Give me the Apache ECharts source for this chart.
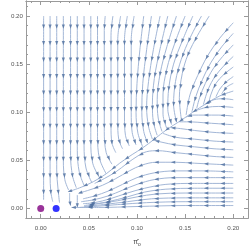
<!DOCTYPE html>
<html><head><meta charset="utf-8">
<script src="https://cdn.jsdelivr.net/npm/echarts@6/dist/echarts.min.js"></script>
<style>html,body{margin:0;padding:0;background:#fff}#c{width:249px;height:246px}</style>
</head><body><div id="c"></div>
<script>
// axis ranges and ticks
const X_MIN = -0.0153, X_MAX = 0.2153;
const Y_MIN = -0.00995, Y_MAX = 0.2156;
const xTickValues = [0, 0.05, 0.10, 0.15, 0.20];
const yTickValues = [0, 0.05, 0.10, 0.15, 0.20];
const minorTickValues = [-0.01, 0.01, 0.02, 0.03, 0.04, 0.06, 0.07, 0.08, 0.09, 0.11, 0.12, 0.13, 0.14, 0.16, 0.17, 0.18, 0.19, 0.21];

// fixed points
const pointPurple = [0, 0];
const pointBlue = [0.016, 0];

// streamlines, listed in flow direction
const verticalLines = [
  [[0.003,0.2],[0.003,0.1],[0.003,0.009]],
  [[0.0097,0.2],[0.0097,0.035],[0.0105,0.017],[0.0125,0.007]],
  [[0.0166,0.2],[0.0166,0.04],[0.018,0.02],[0.0195,0.006]],
  [[0.0235,0.2],[0.0235,0.05],[0.025,0.03],[0.029,0.019]],
  [[0.031,0.2],[0.031,0.055],[0.033,0.034],[0.037,0.0215]],
  [[0.038,0.2],[0.038,0.06],[0.040,0.038],[0.045,0.024]],
  [[0.045,0.2],[0.045,0.065],[0.047,0.042],[0.053,0.027]],
  [[0.052,0.2],[0.052,0.07],[0.054,0.047],[0.061,0.032]],
  [[0.059,0.2],[0.059,0.075],[0.061,0.052],[0.068,0.036]],
  [[0.067,0.2],[0.066,0.185],[0.066,0.08],[0.068,0.058],[0.074,0.046]],
  [[0.075,0.2],[0.073,0.18],[0.073,0.085],[0.074,0.068],[0.078,0.058]],
  [[0.083,0.2],[0.080,0.175],[0.080,0.09],[0.081,0.072],[0.085,0.062]],
  [[0.090,0.2],[0.087,0.175],[0.087,0.095],[0.088,0.076],[0.092,0.065]],
  [[0.097,0.2],[0.094,0.175],[0.094,0.1],[0.095,0.079],[0.099,0.066]]
];
const separatrix = [
  [0.2,0.122],[0.186,0.117],[0.172,0.109],[0.158,0.1],[0.145,0.091],[0.131,0.082],
  [0.118,0.072],[0.106,0.063],[0.095,0.056],[0.082,0.047],[0.068,0.036],[0.055,0.028],
  [0.042,0.022],[0.029,0.0175]
];
const topLines = [
  [[0.107,0.2],[0.103,0.165],[0.100,0.13],[0.099,0.1],[0.101,0.078],[0.106,0.064]],
  [[0.115,0.2],[0.110,0.165],[0.106,0.13],[0.105,0.1],[0.107,0.08],[0.111,0.068]],
  [[0.124,0.2],[0.117,0.165],[0.112,0.132],[0.110,0.105],[0.112,0.085],[0.116,0.072]],
  [[0.132,0.2],[0.124,0.166],[0.118,0.135],[0.116,0.108],[0.117,0.09],[0.121,0.076]],
  [[0.141,0.2],[0.131,0.168],[0.124,0.14],[0.121,0.113],[0.122,0.094],[0.126,0.08]],
  [[0.150,0.2],[0.139,0.171],[0.131,0.145],[0.127,0.118],[0.127,0.098],[0.131,0.083]],
  [[0.158,0.2],[0.147,0.174],[0.138,0.15],[0.133,0.125],[0.132,0.103],[0.136,0.087]],
  [[0.167,0.2],[0.155,0.177],[0.146,0.155],[0.140,0.132],[0.138,0.108],[0.141,0.09]],
  [[0.175,0.2],[0.163,0.18],[0.153,0.16],[0.147,0.14],[0.144,0.115],[0.146,0.093]]
];
const edgeLines = [
  [[0.2,0.193],[0.186,0.177],[0.173,0.158],[0.163,0.138],[0.155,0.118],[0.151,0.097]],
  [[0.2,0.182],[0.188,0.168],[0.177,0.152],[0.168,0.134],[0.161,0.116],[0.157,0.1]],
  [[0.2,0.170],[0.189,0.158],[0.179,0.145],[0.171,0.13],[0.165,0.115],[0.162,0.104]],
  [[0.2,0.158],[0.19,0.148],[0.181,0.137],[0.174,0.124],[0.169,0.108]],
  [[0.2,0.147],[0.19,0.139],[0.182,0.13],[0.177,0.119],[0.175,0.112]],
  [[0.2,0.137],[0.192,0.131],[0.186,0.124],[0.182,0.116]],
  [[0.2,0.130],[0.193,0.126],[0.188,0.119]]
];
const lowerLines = [
  [[0.2,0.113],[0.19,0.114],[0.18,0.113],[0.172,0.109]],
  [[0.2,0.105],[0.185,0.106],[0.172,0.105],[0.162,0.102]],
  [[0.2,0.096],[0.185,0.097],[0.17,0.097],[0.158,0.097],[0.151,0.095]],
  [[0.2,0.087],[0.185,0.088],[0.17,0.089],[0.155,0.09],[0.144,0.09]],
  [[0.2,0.078],[0.18,0.079],[0.16,0.081],[0.145,0.083],[0.135,0.084]],
  [[0.2,0.069],[0.18,0.07],[0.16,0.072],[0.14,0.074],[0.127,0.078]],
  [[0.2,0.061],[0.18,0.062],[0.16,0.064],[0.14,0.066],[0.125,0.069],[0.117,0.071]],
  [[0.2,0.053],[0.18,0.054],[0.16,0.056],[0.14,0.058],[0.122,0.06],[0.11,0.059],[0.1,0.054],[0.09,0.047],[0.078,0.038],[0.066,0.031],[0.056,0.026]],
  [[0.2,0.045],[0.18,0.046],[0.16,0.047],[0.14,0.048],[0.12,0.048],[0.105,0.045],[0.092,0.039],[0.078,0.031],[0.064,0.024],[0.05,0.019],[0.04,0.016]],
  [[0.2,0.038],[0.17,0.039],[0.14,0.039],[0.118,0.037],[0.1,0.032],[0.085,0.025],[0.07,0.018],[0.056,0.013],[0.044,0.01]],
  [[0.2,0.032],[0.17,0.032],[0.14,0.032],[0.118,0.03],[0.1,0.025],[0.085,0.019],[0.07,0.013],[0.055,0.009],[0.042,0.007]],
  [[0.2,0.026],[0.16,0.026],[0.13,0.025],[0.108,0.021],[0.09,0.016],[0.072,0.01],[0.056,0.006],[0.044,0.005]],
  [[0.2,0.021],[0.16,0.021],[0.13,0.02],[0.108,0.017],[0.09,0.012],[0.07,0.007],[0.052,0.004]],
  [[0.2,0.016],[0.15,0.016],[0.12,0.015],[0.1,0.012],[0.08,0.008],[0.06,0.005],[0.045,0.003]],
  [[0.2,0.011],[0.15,0.011],[0.115,0.01],[0.09,0.007],[0.065,0.004],[0.045,0.002]],
  [[0.2,0.007],[0.15,0.007],[0.11,0.006],[0.08,0.004],[0.055,0.002],[0.04,0.001]],
  [[0.2,0.003],[0.15,0.003],[0.1,0.002],[0.06,0.001],[0.032,0.001]]
];
const stubLines = [
  [[0.030,0.016],[0.030,0.009],[0.031,0.003]],
  [[0.038,0.014],[0.038,0.008],[0.038,0.002]]
];

const allLines = [].concat(verticalLines, [separatrix], topLines, edgeLines, lowerLines, stubLines);

const LINE_COLOR = '#9db2d4';
const ARROW_COLOR = '#4f6f9f';

function arrowsFor(poly) {
  const out = [];
  const step = 0.0172;
  let acc = 0, next = 0.011;
  for (let i = 1; i < poly.length; i++) {
    const a = poly[i-1], b = poly[i];
    const dx = b[0]-a[0], dy = b[1]-a[1];
    const L = Math.hypot(dx, dy);
    if (L === 0) continue;
    while (next <= acc + L) {
      const t = (next - acc) / L;
      out.push({value:[a[0]+dx*t, a[1]+dy*t], symbolRotate: Math.atan2(-dx, dy)*180/Math.PI});
      next += step;
    }
    acc += L;
  }
  if (!out.length) {
    const a = poly[0], b = poly[poly.length-1];
    out.push({value:[(a[0]+b[0])/2,(a[1]+b[1])/2], symbolRotate: Math.atan2(-(b[0]-a[0]), b[1]-a[1])*180/Math.PI});
  }
  return out;
}

const series = [];
allLines.forEach(function(poly){
  series.push({type:'line', data: poly, showSymbol:false, symbol:'none', smooth:0.35,
    lineStyle:{color:LINE_COLOR, width:0.95}, silent:true, z:2, animation:false, clip:true});
});
let arrowData = [];
allLines.forEach(function(poly){ arrowData = arrowData.concat(arrowsFor(poly)); });
series.push({type:'scatter', data: arrowData, symbol:'triangle', symbolSize:[3.2,4.4],
  itemStyle:{color:ARROW_COLOR}, silent:true, z:3, animation:false});
series.push({type:'scatter', data:[pointPurple], symbolSize:7, itemStyle:{color:'#800080'}, z:5, silent:true, animation:false});
series.push({type:'scatter', data:[pointBlue], symbolSize:7, itemStyle:{color:'#0000ff'}, z:5, silent:true, animation:false});

const FRAME = '#9a9a9a';
const FONT = 'Liberation Sans';
function axis(dim, pos, ticks, len, labels, extra) {
  const o = {
    type:'value', position:pos,
    min: dim==='x'?X_MIN:Y_MIN, max: dim==='x'?X_MAX:Y_MAX,
    axisLine:{show:true, onZero:false, lineStyle:{color:FRAME, width:1}},
    axisTick:{show:true, inside:true, length:len, customValues:ticks, lineStyle:{color:FRAME, width:1}},
    axisLabel:{show:!!labels, customValues: labels || undefined, formatter: function(v){return v.toFixed(2);},
      fontSize:6.2, color:'#555', fontFamily:FONT, margin: dim==='x'?7:3},
    splitLine:{show:false}
  };
  return Object.assign(o, extra || {});
}
const option = {
  animation:false,
  backgroundColor:'#fff',
  grid:{left:26, right:1, top:1, bottom:28, containLabel:false, outerBoundsMode:'none'},
  xAxis:[
    axis('x','bottom', xTickValues, 4, xTickValues, {name:'{a|π̄}{b|ρ}', nameLocation:'middle', nameGap:20,
      nameTextStyle:{rich:{a:{fontSize:7, fontFamily:FONT, color:'#444'}, b:{fontSize:5, fontFamily:FONT, color:'#444', padding:[4,0,0,0]}}}}),
    axis('x','bottom', minorTickValues, 2, null),
    axis('x','top', xTickValues, 4, null),
    axis('x','top', minorTickValues, 2, null)
  ],
  yAxis:[
    axis('y','left', yTickValues, 4, yTickValues, {name:'{a|π̄}{b|φ}', nameLocation:'middle', nameGap:17,
      nameTextStyle:{rich:{a:{fontSize:7, fontFamily:FONT, color:'#444'}, b:{fontSize:5, fontFamily:FONT, color:'#444', padding:[4,0,0,0]}}}}),
    axis('y','left', minorTickValues, 2, null),
    axis('y','right', yTickValues, 4, null),
    axis('y','right', minorTickValues, 2, null)
  ],
  series: series
};
const chart = echarts.init(document.getElementById('c'));
chart.setOption(option);
</script>
</body></html>
